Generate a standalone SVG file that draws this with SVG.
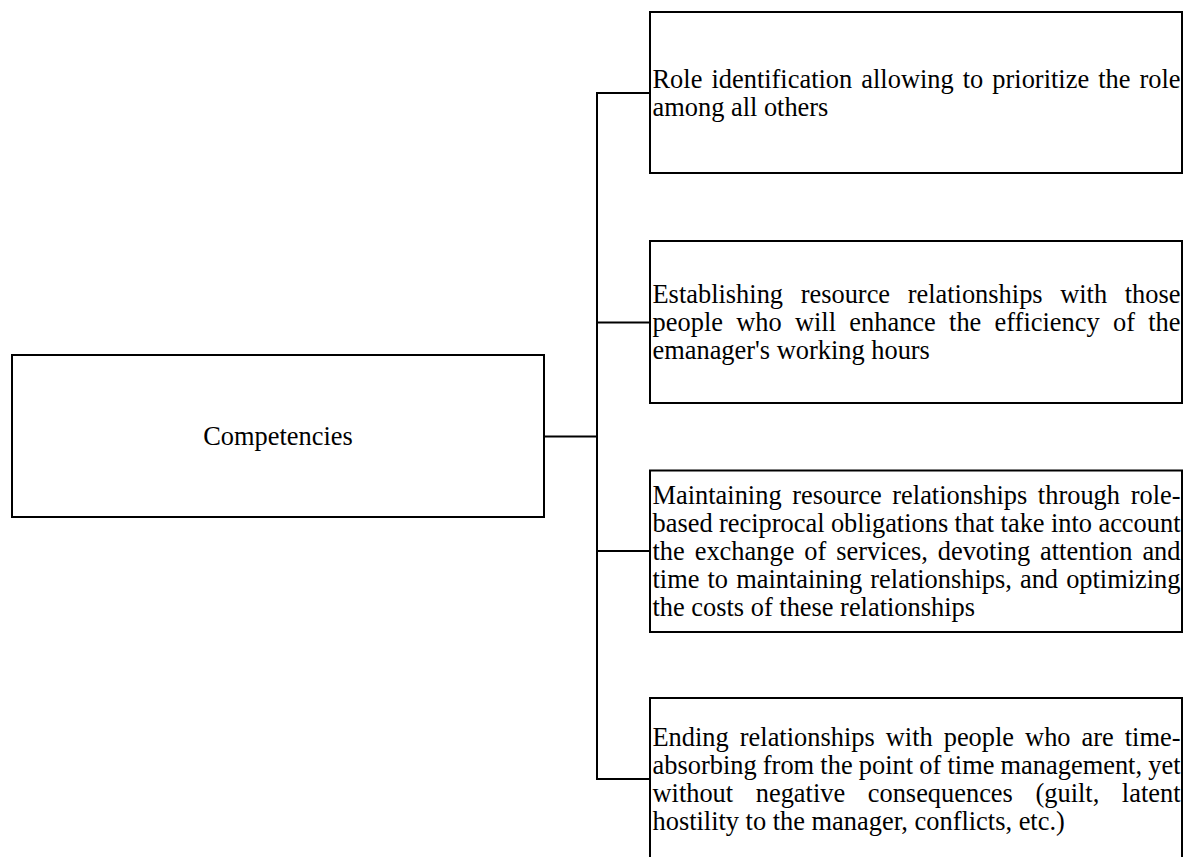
<svg xmlns="http://www.w3.org/2000/svg" width="1185" height="857" viewBox="0 0 1185 857">
  <style>
    .box { fill: #ffffff; stroke: #000000; stroke-width: 2; }
    .conn { fill: none; stroke: #000000; stroke-width: 2; stroke-linejoin: miter; stroke-linecap: square; }
    .t { font-family: "Liberation Serif", "Times New Roman", serif; font-size: 26.4px; fill: #000000; }
    .c { text-anchor: middle; }
  </style>
  <rect width="1185" height="857" fill="#ffffff"/>
  <g id="connectors">
    <path class="conn" d="M544 436.5 H597 M650 93 H597 V779 H650 M597 322.5 H650 M597 551 H650"/>
  </g>
  <g id="node-competencies">
    <rect class="box" x="12" y="355" width="532" height="162"/>
    <text class="t c" x="278" y="445">Competencies</text>
  </g>
  <g id="node-role-identification">
    <rect class="box" x="650" y="12" width="532" height="161"/>
    <text class="t" x="652.5" y="88" word-spacing="2.4" textLength="528" lengthAdjust="spacing">Role identification allowing to prioritize the role</text>
    <text class="t" x="652.5" y="116">among all others</text>
  </g>
  <g id="node-establishing">
    <rect class="box" x="650" y="241" width="532" height="162"/>
    <text class="t" x="652.5" y="303" word-spacing="11" textLength="528" lengthAdjust="spacing">Establishing resource relationships with those</text>
    <text class="t" x="652.5" y="331" word-spacing="6.6" textLength="528" lengthAdjust="spacing">people who will enhance the efficiency of the</text>
    <text class="t" x="652.5" y="359">emanager's working hours</text>
  </g>
  <g id="node-maintaining">
    <rect class="box" x="650" y="470.5" width="532" height="161.5"/>
    <text class="t" x="652.5" y="504" word-spacing="4" textLength="528" lengthAdjust="spacing">Maintaining resource relationships through role-</text>
    <text class="t" x="652.5" y="532" word-spacing="-0.2" textLength="528" lengthAdjust="spacing">based reciprocal obligations that take into account</text>
    <text class="t" x="652.5" y="560" word-spacing="3.3" textLength="528" lengthAdjust="spacing">the exchange of services, devoting attention and</text>
    <text class="t" x="652.5" y="588" word-spacing="1.5" textLength="528" lengthAdjust="spacing">time to maintaining relationships, and optimizing</text>
    <text class="t" x="652.5" y="616">the costs of these relationships</text>
  </g>
  <g id="node-ending">
    <rect class="box" x="650" y="698" width="532" height="162"/>
    <text class="t" x="652.5" y="746" word-spacing="4.4" textLength="528" lengthAdjust="spacing">Ending relationships with people who are time-</text>
    <text class="t" x="652.5" y="774" word-spacing="-0.4" textLength="528" lengthAdjust="spacing">absorbing from the point of time management, yet</text>
    <text class="t" x="652.5" y="802" word-spacing="16" textLength="528" lengthAdjust="spacing">without negative consequences (guilt, latent</text>
    <text class="t" x="652.5" y="830">hostility to the manager, conflicts, etc.)</text>
  </g>
</svg>
